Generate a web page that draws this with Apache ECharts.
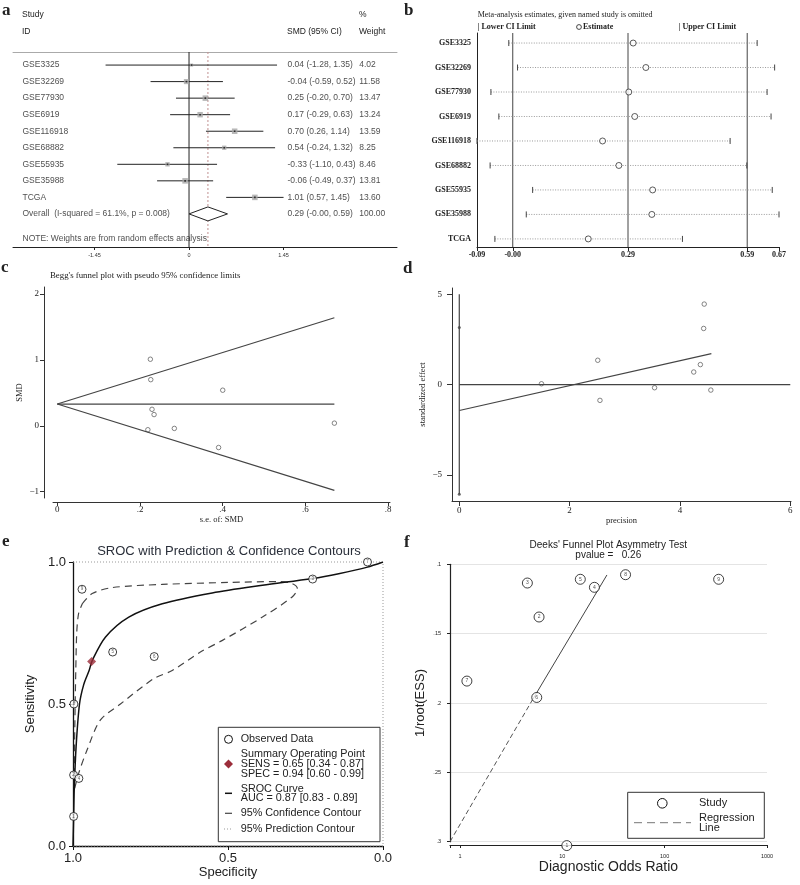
<!DOCTYPE html>
<html><head><meta charset="utf-8">
<script src="https://cdn.jsdelivr.net/npm/echarts@6/dist/echarts.min.js"></script>
<style>html,body{margin:0;padding:0;background:#fff}#c{width:800px;height:885px}</style>
</head><body><div id="c"></div>
<script>
// ---------------- DATA ----------------
// (a) forest plot
const studies   = ['GSE3325','GSE32269','GSE77930','GSE6919','GSE116918','GSE68882','GSE55935','GSE35988','TCGA'];
const smd       = [0.04,-0.04,0.25,0.17,0.70,0.54,-0.33,-0.06,1.01];
const smdLower  = [-1.28,-0.59,-0.20,-0.29,0.26,-0.24,-1.10,-0.49,0.57];
const smdUpper  = [1.35,0.52,0.70,0.63,1.14,1.32,0.43,0.37,1.45];
const weights   = [4.02,11.58,13.47,13.24,13.59,8.25,8.46,13.81,13.60];
const overallSMD = [0.29,-0.00,0.59];           // estimate, lower, upper
const overallWeight = '100.00';
const overallLabel = 'Overall  (I-squared = 61.1%, p = 0.008)';
const noteLabel = 'NOTE: Weights are from random effects analysis';
const forestTicks = [-1.45,0,1.45];
const nullEffect = 0;

// (b) leave-one-out sensitivity
const omitEst   = [0.303,0.335,0.292,0.307,0.226,0.267,0.352,0.350,0.190];
const omitLower = [-0.010,0.012,-0.055,-0.035,-0.090,-0.057,0.050,0.034,-0.045];
const omitUpper = [0.615,0.659,0.640,0.650,0.547,0.589,0.653,0.670,0.427];
const omitTicks = [-0.09,-0.00,0.29,0.59,0.67];

// (c) Begg's funnel
const beggSE = [0.670,0.283,0.229,0.234,0.226,0.400,0.390,0.219,0.225];
const beggCenterLine = [[0,0.33],[0.67,0.33]];
const beggUpperLine  = [[0,0.33],[0.67,1.64]];
const beggLowerLine  = [[0,0.33],[0.67,-0.98]];
const beggXTicks = [0,0.2,0.4,0.6,0.8];
const beggYTicks = [-1,0,1,2];

// (d) Egger plot
const eggerPrecision = [1.49,3.54,4.37,4.25,4.43,2.51,2.55,4.56,4.44];
const eggerEffect    = [0.05,-0.17,1.11,0.70,3.11,1.35,-0.87,-0.30,4.46];
const eggerFit       = [[0,-1.43],[4.57,1.72]];
const eggerZero      = [[0,0],[6,0]];
const eggerCI        = [0,-6.06,5.0];      // x, from y, to y
const eggerCIPoints  = [[0,3.17],[0,-6.06]];
const eggerXTicks = [0,2,4,6];
const eggerYTicks = [-5,0,5];

// (e) SROC
const obsSpec  = [0.971,0.05,0.227,0.872,0.738,0.997,0.998,0.981,0.998];
const obsSens  = [0.904,1.0,0.94,0.683,0.667,0.50,0.25,0.238,0.104];
const obsLabel = [9,7,3,5,6,8,2,4,1];
const summarySens = [0.65,0.34,0.87];
const summarySpec = [0.94,0.60,0.99];
const aucVals = [0.87,0.83,0.89];
const srocSpec = [1,0.998,0.996,0.99,0.979,0.965,0.948,0.938,0.895,0.82,0.712,0.551,0.389,0.228,0.143,0.05,0];
const srocSens = [0,0.1,0.2,0.35,0.5,0.57,0.618,0.653,0.736,0.806,0.853,0.891,0.918,0.942,0.959,0.982,1];
const confSpec = [0.97,0.938,0.873,0.712,0.497,0.335,0.293,0.276,0.293,0.389,0.518,0.589,0.68,0.74,0.847,0.912,0.955,0.982,0.996,0.995,0.993,0.991,0.988,0.982,0.97];
const confSens = [0.853,0.889,0.910,0.921,0.928,0.931,0.924,0.906,0.877,0.806,0.724,0.683,0.618,0.589,0.5,0.443,0.337,0.255,0.196,0.35,0.5,0.618,0.75,0.818,0.853];
const predSpec = [1,0,0,1];
const predSens = [1,1,0,0];
const srocTicks = [0,0.5,1];

// (f) Deeks
const deeksDOR = [11.07,5.93,4.56,20.6,15.0,5.63,1.17,41.5,337];
const deeksY   = [0.3028,0.138,0.1135,0.1166,0.1108,0.196,0.1842,0.1075,0.1108];
const deeksLabel = [1,2,3,4,5,6,7,8,9];
const deeksLineLow  = [[0.8,0.3],[5.03,0.1986]];
const deeksLineHigh = [[5.03,0.1986],[27.3,0.1077]];
const deeksP = '0.26';

// ---------------- RENDER ----------------
const SANS = '"Liberation Sans", Arial, sans-serif';
const SERIF = '"Liberation Serif", "Times New Roman", serif';
const INK = '#222';
const fmt2 = v => ((v < 0 || Object.is(v, -0)) ? '-' : '') + Math.abs(v).toFixed(2);

function T(text, x, y, o) {
  o = o || {};
  const al = o.align || 'left';
  return {type:'text', silent:true, x:x, y:y, rotation:o.rot||0, z:100,
    style:{text:text, fill:o.color||INK, fontSize:o.size||8, fontFamily:o.family||SANS,
      fontWeight:o.weight||'normal', align:al, textAlign:al,
      verticalAlign:'middle', textVerticalAlign:'middle'}};
}
function L(x1,y1,x2,y2,o){ o=o||{}; return {type:'line', silent:true, z:100, shape:{x1,y1,x2,y2},
  style:{stroke:o.color||INK, lineWidth:o.w||1, lineDash:o.dash||null}}; }
function axisBase(extra){
  const a = Object.assign({splitLine:{show:false}}, extra);
  a.axisLine = Object.assign({onZero:false}, a.axisLine || {});
  return a;
}

// full-height vertical reference lines drawn through the axis scale
function vlines(xIdx, yIdx, values, style, z){
  return {type:'custom', xAxisIndex:xIdx, yAxisIndex:yIdx, silent:true, z:z||1,
    data:values.map(v=>[v]), encode:{x:0},
    renderItem:(p,api)=>{ const cs=p.coordSys; const c=api.coord([api.value(0), 0]);
      return {type:'line', shape:{x1:c[0], y1:cs.y, x2:c[0], y2:cs.y+cs.height}, style:Object.assign({}, style)}; }};
}

// text rows for forest plot
const COLS = [-2.562, 1.503, 2.603];
const textItems = [];
studies.forEach((s,i)=>{
  const t = [s, `${fmt2(smd[i])} (${fmt2(smdLower[i])}, ${fmt2(smdUpper[i])})`, weights[i].toFixed(2)];
  t.forEach((txt,c)=>textItems.push({value:[COLS[c], i], label:{formatter:txt}}));
});
[overallLabel, `${fmt2(overallSMD[0])} (${fmt2(overallSMD[1])}, ${fmt2(overallSMD[2])})`, overallWeight]
  .forEach((txt,c)=>textItems.push({value:[COLS[c], studies.length], label:{formatter:txt}}));
textItems.push({value:[COLS[0], studies.length+1.5], label:{formatter:noteLabel}});

const option = {
  animation:false,
  backgroundColor:'#fff',
  grid:[
    {left:13, top:52, width:384, height:195, outerBoundsMode:'none'},
    {left:477, top:33, width:302, height:214, outerBoundsMode:'none'},
    {left:53, top:287, width:337, height:211, outerBoundsMode:'none'},
    {left:452, top:288, width:339, height:213, outerBoundsMode:'none'},
    {left:73, top:562, width:310, height:284, outerBoundsMode:'none'},
    {left:450, top:564.3, width:317, height:277.4, outerBoundsMode:'none'}
  ],
  xAxis:[
    axisBase({gridIndex:0, type:'value', min:-2.70, max:3.19,
      axisLine:{show:true, lineStyle:{color:INK, width:1}},
      axisTick:{show:true, customValues:forestTicks, length:3, lineStyle:{color:INK}},
      axisLabel:{show:true, customValues:forestTicks, fontSize:5.5, color:'#333', fontFamily:SANS, margin:5, formatter:v=>String(v)}}),
    axisBase({gridIndex:0, type:'value', position:'top', min:-2.70, max:3.19,
      axisLine:{show:true, lineStyle:{color:'#aaa', width:1}}, axisTick:{show:false}, axisLabel:{show:false}}),
    axisBase({gridIndex:1, type:'value', min:-0.09, max:0.67,
      axisLine:{show:true, lineStyle:{color:INK, width:1}},
      axisTick:{show:true, customValues:omitTicks, length:4, lineStyle:{color:INK}},
      axisLabel:{show:true, customValues:omitTicks, fontSize:8, fontWeight:'bold', color:INK, fontFamily:SERIF, margin:4, formatter:v=>fmt2(v)}}),
    axisBase({gridIndex:2, type:'value', min:-0.0104, max:0.8045, offset:4,
      axisLine:{show:true, lineStyle:{color:'#333', width:1}},
      axisTick:{show:true, customValues:beggXTicks, length:4, lineStyle:{color:'#333'}},
      axisLabel:{show:true, customValues:beggXTicks, fontSize:9, color:INK, fontFamily:SERIF, margin:3,
        formatter:v=> v===0 ? '0' : String(+v.toFixed(1)).replace(/^0\./,'.')},
      name:'s.e. of: SMD', nameLocation:'middle', nameGap:11.5, nameTextStyle:{fontSize:8.5, fontFamily:SERIF, color:INK}}),
    axisBase({gridIndex:3, type:'value', min:-0.132, max:6.013,
      axisLine:{show:true, lineStyle:{color:'#333', width:1}},
      axisTick:{show:true, customValues:eggerXTicks, length:5, lineStyle:{color:'#333'}},
      axisLabel:{show:true, customValues:eggerXTicks, fontSize:9, color:INK, fontFamily:SERIF, margin:5},
      name:'precision', nameLocation:'middle', nameGap:14.5, nameTextStyle:{fontSize:8.5, fontFamily:SERIF, color:INK}}),
    axisBase({gridIndex:4, type:'value', min:0, max:1, inverse:true,
      axisLine:{show:true, lineStyle:{color:'#111', width:1.3}},
      axisTick:{show:true, customValues:srocTicks, length:4, lineStyle:{color:'#111'}},
      axisLabel:{show:true, customValues:srocTicks, fontSize:13, color:INK, fontFamily:SANS, margin:6, formatter:v=>v.toFixed(1)},
      name:'Specificity', nameLocation:'middle', nameGap:19, nameTextStyle:{fontSize:13, fontFamily:SANS, color:INK}}),
    axisBase({gridIndex:5, type:'log', logBase:10, min:0.8, max:1000, offset:3.3,
      axisLine:{show:true, lineStyle:{color:INK, width:1.2}},
      axisTick:{show:true, length:3, lineStyle:{color:INK}},
      axisLabel:{show:true, fontSize:5.5, color:INK, fontFamily:SANS, margin:8, formatter:v=> v<1 ? '' : String(Math.round(v))},
      name:'Diagnostic Odds Ratio', nameLocation:'middle', nameGap:12.5, nameTextStyle:{fontSize:14, fontFamily:SANS, color:INK}})
  ],
  yAxis:[
    axisBase({gridIndex:0, type:'value', min:-0.79, max:11, inverse:true, show:false}),
    axisBase({gridIndex:1, type:'value', min:-0.41, max:8.33, inverse:true,
      axisLine:{show:true, lineStyle:{color:INK, width:1}}, axisTick:{show:false},
      axisLabel:{show:true, customValues:studies.map((s,i)=>i), fontSize:8, fontWeight:'bold', fontFamily:SERIF, color:INK, margin:6,
        formatter:v=>studies[Math.round(v)]}}),
    axisBase({gridIndex:2, type:'value', min:-1.096, max:2.106, offset:9,
      axisLine:{show:true, lineStyle:{color:'#333', width:1}},
      axisTick:{show:true, customValues:beggYTicks, length:4, lineStyle:{color:'#333'}},
      axisLabel:{show:true, customValues:beggYTicks, fontSize:9, fontFamily:SERIF, color:INK, margin:5,
        formatter:v=> v<0 ? '\u2212'+Math.abs(v) : String(v)},
      name:'SMD', nameLocation:'middle', nameGap:19.5, nameTextStyle:{fontSize:8.5, fontFamily:SERIF, color:INK}}),
    axisBase({gridIndex:3, type:'value', min:-6.44, max:5.35,
      axisLine:{show:true, lineStyle:{color:'#333', width:1}},
      axisTick:{show:true, customValues:eggerYTicks, length:5, lineStyle:{color:'#333'}},
      axisLabel:{show:true, customValues:eggerYTicks, fontSize:9, fontFamily:SERIF, color:INK, margin:10,
        formatter:v=> v<0 ? '\u2212'+Math.abs(v) : String(v)},
      name:'standardized effect', nameLocation:'middle', nameGap:24.5, nameTextStyle:{fontSize:8.5, fontFamily:SERIF, color:INK}}),
    axisBase({gridIndex:4, type:'value', min:0, max:1,
      axisLine:{show:true, lineStyle:{color:'#111', width:1.3}},
      axisTick:{show:true, customValues:srocTicks, length:4, lineStyle:{color:'#111'}},
      axisLabel:{show:true, customValues:srocTicks, fontSize:13, fontFamily:SANS, color:INK, margin:7, formatter:v=>v.toFixed(1)},
      name:'Sensitivity', nameLocation:'middle', nameGap:36, nameTextStyle:{fontSize:13, fontFamily:SANS, color:INK}}),
    {gridIndex:5, type:'value', min:0.1, max:0.3, interval:0.05, inverse:true,
      axisLine:{show:true, onZero:false, lineStyle:{color:INK, width:1.2}},
      axisTick:{show:true, length:3, lineStyle:{color:INK}},
      axisLabel:{show:true, fontSize:5.5, fontFamily:SANS, color:INK, margin:9, formatter:v=>String(+v.toFixed(2)).replace(/^0\./,'.')},
      splitLine:{show:true, lineStyle:{color:'#e4e4e4', width:1}},
      name:'1/root(ESS)', nameLocation:'middle', nameGap:23, nameTextStyle:{fontSize:13, fontFamily:SANS, color:INK}}
  ],
  series:[
    // ---- (a)
    vlines(0, 0, [nullEffect], {stroke:INK, lineWidth:1}, 1),
    vlines(0, 0, [overallSMD[0]], {stroke:'#c09090', lineWidth:1, lineDash:[2,2]}, 1),
    {type:'custom', xAxisIndex:0, yAxisIndex:0, silent:true, z:2,
      data:studies.map((s,i)=>[i, smdLower[i], smdUpper[i]]), encode:{x:[1,2], y:0},
      renderItem:(p,api)=>{ const r=api.value(0); const a=api.coord([api.value(1),r]), b=api.coord([api.value(2),r]);
        return {type:'line', shape:{x1:a[0],y1:a[1],x2:b[0],y2:b[1]}, style:{stroke:INK, lineWidth:1}}; }},
    {type:'scatter', xAxisIndex:0, yAxisIndex:0, silent:true, symbol:'rect',
      data:studies.map((s,i)=>({value:[smd[i], i], symbolSize:1.5*Math.sqrt(weights[i])})),
      itemStyle:{color:'#a6a6a6'}, z:3},
    {type:'scatter', xAxisIndex:0, yAxisIndex:0, silent:true, symbol:'rect', symbolSize:1.6,
      data:studies.map((s,i)=>[smd[i], i]), itemStyle:{color:'#111'}, z:4},
    {type:'custom', xAxisIndex:0, yAxisIndex:0, silent:true, z:5,
      data:[[studies.length, overallSMD[0], overallSMD[1], overallSMD[2]]], encode:{x:[1,2,3], y:0},
      renderItem:(p,api)=>{ const r=api.value(0); const c=api.coord([api.value(1),r]), l=api.coord([api.value(2),r]), h=api.coord([api.value(3),r]);
        return {type:'polygon', shape:{points:[[l[0],c[1]],[c[0],c[1]-7],[h[0],c[1]],[c[0],c[1]+7]]}, style:{fill:'#fff', stroke:INK, lineWidth:1}}; }},
    {type:'scatter', xAxisIndex:0, yAxisIndex:0, silent:true, symbolSize:1, itemStyle:{color:'rgba(0,0,0,0)'},
      data:textItems, clip:false,
      label:{show:true, position:'right', distance:0, fontSize:8.5, fontFamily:SANS, color:INK}},
    // ---- (b)
    vlines(2, 1, overallSMD, {stroke:'#444', lineWidth:1}, 1),
    {type:'custom', xAxisIndex:2, yAxisIndex:1, silent:true, z:2,
      data:studies.map((s,i)=>[i, omitLower[i], omitUpper[i]]), encode:{x:[1,2], y:0},
      renderItem:(p,api)=>{ const r=api.value(0); const a=api.coord([api.value(1),r]), b=api.coord([api.value(2),r]);
        return {type:'group', children:[
          {type:'line', shape:{x1:a[0],y1:a[1],x2:b[0],y2:b[1]}, style:{stroke:'#9a9a9a', lineWidth:1, lineDash:[1,1.5]}},
          {type:'line', shape:{x1:a[0],y1:a[1]-3,x2:a[0],y2:a[1]+3}, style:{stroke:'#444', lineWidth:1}},
          {type:'line', shape:{x1:b[0],y1:b[1]-3,x2:b[0],y2:b[1]+3}, style:{stroke:'#444', lineWidth:1}}]}; }},
    {type:'scatter', xAxisIndex:2, yAxisIndex:1, silent:true, symbol:'circle', symbolSize:6, z:4,
      data:studies.map((s,i)=>[omitEst[i], i]),
      itemStyle:{color:'#fff', borderColor:'#333', borderWidth:1}},
    // ---- (c)
    ...[beggCenterLine, beggUpperLine, beggLowerLine].map(d=>({type:'line', xAxisIndex:3, yAxisIndex:2, silent:true,
      data:d, symbol:'none', lineStyle:{color:'#444', width:1.2}})),
    {type:'scatter', xAxisIndex:3, yAxisIndex:2, silent:true, symbolSize:4.5,
      data:studies.map((s,i)=>[beggSE[i], smd[i]]),
      itemStyle:{color:'#fff', borderColor:'#555', borderWidth:0.9}},
    // ---- (d)
    ...[eggerZero, eggerFit].map(d=>({type:'line', xAxisIndex:4, yAxisIndex:3, silent:true,
      data:d, symbol:'none', lineStyle:{color:'#444', width:1.2}})),
    {type:'custom', xAxisIndex:4, yAxisIndex:3, silent:true, z:2,
      data:[eggerCI], encode:{x:0, y:[1,2]},
      renderItem:(p,api)=>{ const a=api.coord([api.value(0),api.value(1)]), b=api.coord([api.value(0),api.value(2)]);
        return {type:'line', shape:{x1:a[0],y1:a[1],x2:b[0],y2:b[1]}, style:{stroke:'#444', lineWidth:1.2}}; }},
    {type:'scatter', xAxisIndex:4, yAxisIndex:3, silent:true, symbolSize:3, data:eggerCIPoints, itemStyle:{color:'#444'}},
    {type:'scatter', xAxisIndex:4, yAxisIndex:3, silent:true, symbolSize:4.5,
      data:eggerPrecision.map((p,i)=>[p, eggerEffect[i]]),
      itemStyle:{color:'#fff', borderColor:'#555', borderWidth:0.9}},
    // ---- (e)
    {type:'line', xAxisIndex:5, yAxisIndex:4, silent:true, clip:false, symbol:'none',
      data:predSpec.map((s,i)=>[s, predSens[i]]), lineStyle:{color:'#999', width:1, type:[1,2]}},
    {type:'line', xAxisIndex:5, yAxisIndex:4, silent:true, symbol:'none', smooth:0.3,
      data:confSpec.map((s,i)=>[s, confSens[i]]), lineStyle:{color:'#444', width:1.2, type:[7,5]}},
    {type:'line', xAxisIndex:5, yAxisIndex:4, silent:true, symbol:'none', smooth:0.3,
      data:srocSpec.map((s,i)=>[s, srocSens[i]]), lineStyle:{color:'#111', width:1.5}},
    {type:'scatter', xAxisIndex:5, yAxisIndex:4, silent:true, clip:false, symbolSize:8, z:5,
      data:obsSpec.map((s,i)=>({value:[s, obsSens[i]], label:{formatter:String(obsLabel[i])}})),
      itemStyle:{color:'#fff', borderColor:'#111', borderWidth:1},
      label:{show:true, position:'inside', fontSize:4.5, color:'#333', fontFamily:SANS}},
    {type:'scatter', xAxisIndex:5, yAxisIndex:4, silent:true, symbol:'diamond', symbolSize:[9,9], z:6,
      data:[[summarySpec[0], summarySens[0]]], itemStyle:{color:'#9b2d3a'}},
    // ---- (f)
    {type:'line', xAxisIndex:6, yAxisIndex:5, silent:true, clip:false, symbol:'none',
      data:deeksLineLow, lineStyle:{color:'#555', width:1, type:[5,3]}},
    {type:'line', xAxisIndex:6, yAxisIndex:5, silent:true, symbol:'none',
      data:deeksLineHigh, lineStyle:{color:'#444', width:1}},
    {type:'scatter', xAxisIndex:6, yAxisIndex:5, silent:true, clip:false, symbolSize:10, z:5,
      data:deeksDOR.map((d,i)=>({value:[d, deeksY[i]], label:{formatter:String(deeksLabel[i])}})),
      itemStyle:{color:'#fff', borderColor:'#111', borderWidth:1},
      label:{show:true, position:'inside', fontSize:5, color:'#222', fontFamily:SANS}}
  ],
  graphic:[
    // panel letters
    T('a', 2, 10.5, {family:SERIF, weight:'bold', size:17}),
    T('b', 404, 11, {family:SERIF, weight:'bold', size:17}),
    T('c', 1, 268, {family:SERIF, weight:'bold', size:17}),
    T('d', 403, 269, {family:SERIF, weight:'bold', size:17}),
    T('e', 2, 542, {family:SERIF, weight:'bold', size:17}),
    T('f', 404, 543, {family:SERIF, weight:'bold', size:17}),
    // (a) headers
    T('Study', 22, 15, {size:8.5}), T('ID', 22, 32, {size:8.5}),
    T('%', 359, 15, {size:8.5}), T('SMD (95% CI)', 287, 32, {size:8.5}), T('Weight', 359, 32, {size:8.5}),
    // (b) title & legend
    T('Meta-analysis estimates, given named study is omitted', 477.7, 15, {family:SERIF, size:8}),
    T('| Lower CI Limit', 477.7, 27, {family:SERIF, size:8, weight:'bold'}),
    {type:'circle', silent:true, z:100, shape:{cx:579, cy:27, r:2.4}, style:{fill:'#fff', stroke:'#333', lineWidth:0.9}},
    T('Estimate', 583, 27, {family:SERIF, size:8, weight:'bold'}),
    T('| Upper CI Limit', 678.7, 27, {family:SERIF, size:8, weight:'bold'}),
    // (c) title
    T("Begg's funnel plot with pseudo 95% confidence limits", 50, 276, {family:SERIF, size:8.8}),
    // (e) title & legend
    T('SROC with Prediction & Confidence Contours', 229, 551, {size:13, align:'center', color:'#2a2f3a'}),
    {type:'rect', silent:true, z:99, shape:{x:218.3, y:727.3, width:161.7, height:114.4}, style:{fill:'#fff', stroke:'#333', lineWidth:1}},
    {type:'circle', silent:true, z:100, shape:{cx:228.5, cy:739.3, r:4}, style:{fill:'#fff', stroke:'#111', lineWidth:1}},
    T('Observed Data', 240.7, 739.3, {size:10.8}),
    T('Summary Operating Point', 240.7, 754.3, {size:10.8}),
    {type:'polygon', silent:true, z:100, shape:{points:[[228.5,759.5],[233,764],[228.5,768.5],[224,764]]}, style:{fill:'#9b2d3a'}},
    T(`SENS = ${summarySens[0].toFixed(2)} [${summarySens[1].toFixed(2)} - ${summarySens[2].toFixed(2)}]`, 240.7, 764, {size:10.8}),
    T(`SPEC = ${summarySpec[0].toFixed(2)} [${summarySpec[1].toFixed(2)} - ${summarySpec[2].toFixed(2)}]`, 240.7, 774, {size:10.8}),
    L(225, 793.3, 232, 793.3, {color:'#111', w:1.5}),
    T('SROC Curve', 240.7, 788.7, {size:10.8}),
    T(`AUC = ${aucVals[0].toFixed(2)} [${aucVals[1].toFixed(2)} - ${aucVals[2].toFixed(2)}]`, 240.7, 798.3, {size:10.8}),
    L(225, 813.3, 232, 813.3, {color:'#444', w:1.2}),
    T('95% Confidence Contour', 240.7, 813.3, {size:10.8}),
    L(224, 829, 233, 829, {color:'#999', w:1, dash:[1,2]}),
    T('95% Prediction Contour', 240.7, 829, {size:10.8}),
    // (f) title & legend
    T("Deeks' Funnel Plot Asymmetry Test", 608.3, 545.5, {size:10, align:'center'}),
    T('pvalue =   ' + deeksP, 608.3, 555.2, {size:10, align:'center'}),
    {type:'rect', silent:true, z:99, shape:{x:627.7, y:792.3, width:136.6, height:46}, style:{fill:'#fff', stroke:'#333', lineWidth:1}},
    {type:'circle', silent:true, z:100, shape:{cx:662.3, cy:803.3, r:4.8}, style:{fill:'#fff', stroke:'#111', lineWidth:1}},
    T('Study', 699, 803, {size:11}),
    L(634, 822.7, 691, 822.7, {color:'#777', w:1, dash:[8,5]}),
    T('Regression', 699, 818.3, {size:11}),
    T('Line', 699, 827.7, {size:11})
  ]
};
const chart = echarts.init(document.getElementById('c'), null, {renderer:'canvas', width:800, height:885});
chart.setOption(option);
</script></body></html>
